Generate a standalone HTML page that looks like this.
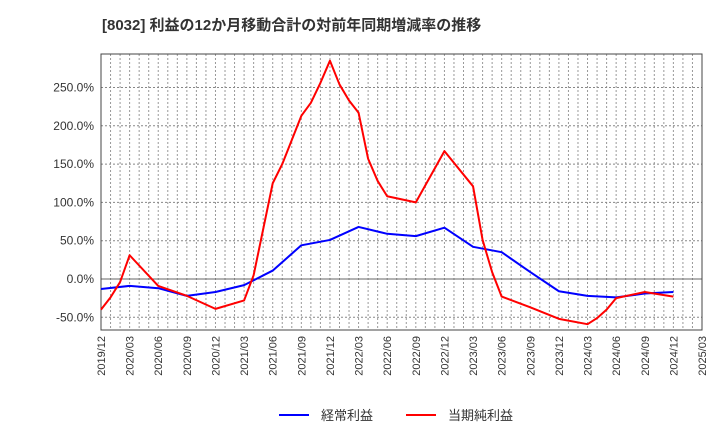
<!DOCTYPE html>
<html><head><meta charset="utf-8"><style>
body{margin:0;background:#fff;}
svg{display:block;font-family:"Liberation Sans","Noto Sans CJK JP",sans-serif;}
</style></head><body>
<svg id="chart" width="720" height="440" viewBox="0 0 720 440">
<text x="102" y="30" font-size="15" font-weight="bold" fill="#333">[8032]  利益の12か月移動合計の対前年同期増減率の推移</text>
<g id="grid"></g><g id="axes"></g><g id="series"></g>
<g>
<line x1="279" y1="415" x2="309" y2="415" stroke="#0000ff" stroke-width="2"/>
<text x="321" y="420" font-size="13" fill="#333">経常利益</text>
<line x1="406" y1="415" x2="436" y2="415" stroke="#ff0000" stroke-width="2"/>
<text x="448" y="420" font-size="13" fill="#333">当期純利益</text>
</g>
</svg>
<script>
const xLabels=["2019/12","2020/03","2020/06","2020/09","2020/12","2021/03","2021/06","2021/09","2021/12","2022/03","2022/06","2022/09","2022/12","2023/03","2023/06","2023/09","2023/12","2024/03","2024/06","2024/09","2024/12","2025/03"];
const yTicks=[-50,0,50,100,150,200,250];
const blueMonths=[0,3,6,9,12,15,18,21,24,27,30,33,36,39,42,45,48,51,54,57,60];
const blueValues=[-13,-9,-12,-22,-17,-8,11,44,51,68,59,56,67,42,35,9,-16,-22,-24,-19,-17];
const redMonths=[0,1,2,3,6,9,12,15,16,18,19,21,22,23,24,25,26,27,28,29,30,33,36,39,40,41,42,45,48,51,52,53,54,57,60];
const redValues=[-40,-24,-4,31,-9,-22,-39,-28,5,125,150,213,230,256,285,254,233,217,157,128,108,100,167,121,51,9,-23,-37,-52,-59,-51,-40,-25,-17,-23];
const L=101,R=702,T=54,B=330;
const xs=m=>L+m*(R-L)/63;
const ys=v=>279-v*0.766;
const NS="http://www.w3.org/2000/svg";
function mk(t,p,a){const e=document.createElementNS(NS,t);for(const k in a)e.setAttribute(k,a[k]);p.appendChild(e);return e;}
const grid=document.getElementById('grid'),axes=document.getElementById('axes'),ser=document.getElementById('series');
for(let m=1;m<63;m++){const l=mk('line',grid,{x1:xs(m),x2:xs(m),y1:T,y2:B,stroke:'#999','stroke-dasharray':'2,2','stroke-width':1});

}
yTicks.forEach(v=>{const y=ys(v);
const l=mk('line',grid,{x1:L,x2:R,y1:y,y2:y,stroke:v===0?'#666':'#888','stroke-dasharray':v===0?'':'2,2','stroke-width':1});


const t=mk('text',axes,{x:94,y:y+4,'font-size':12,'text-anchor':'end',fill:'#333'});t.textContent=v.toFixed(1)+'%';

});
const fr=mk('rect',axes,{x:L,y:T,width:R-L,height:B-T,fill:'none',stroke:'#444','stroke-width':1});


xLabels.forEach((s,i)=>{const x=xs(i*3);
const t=mk('text',axes,{x:0,y:0,'font-size':11,'text-anchor':'end',fill:'#333',transform:`translate(${x+4},336) rotate(-90)`});t.textContent=s;

});
function line(ms,vs,c,name){const p=mk('polyline',ser,{points:ms.map((m,i)=>xs(m)+','+ys(vs[i])).join(' '),fill:'none',stroke:c,'stroke-width':2,'stroke-linejoin':'round'});

}
line(blueMonths,blueValues,'#0000ff','ordinary-profit-line');
line(redMonths,redValues,'#ff0000','net-profit-line');
</script>
</body></html>
